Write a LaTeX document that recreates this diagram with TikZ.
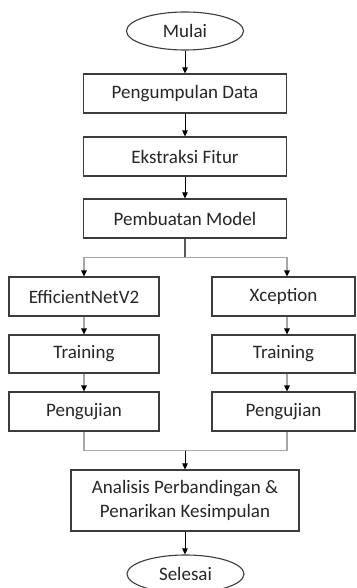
\documentclass[tikz,border=0pt]{standalone}
\usepackage{fontspec}
\setmainfont{Carlito}
\usetikzlibrary{shapes.geometric,arrows.meta}
\definecolor{bord}{HTML}{3C3C3C}
\definecolor{txt}{HTML}{262626}
\definecolor{lg}{HTML}{A6A6A6}
\definecolor{dg}{HTML}{595959}
\tikzset{
  box/.style={draw=bord, line width=1.1pt, rectangle, inner sep=0pt, text=txt,
    font=\fontsize{19}{23.5}\selectfont, align=center},
  term/.style={draw=bord, line width=1.1pt, ellipse, inner sep=0pt, text=txt,
    font=\fontsize{19}{23.5}\selectfont, minimum width=117pt, minimum height=38pt},
  tip/.style={-{Triangle[width=5.5pt,length=6pt,color=black]}},
  arr/.style={draw=black, line width=0.8pt, tip},
  garr/.style={draw=lg, line width=1.1pt, tip},
  gline/.style={draw=lg, line width=1.1pt},
}
\begin{document}
\begin{tikzpicture}[x=1pt,y=-1pt]
\clip (0,0) rectangle (356,588);
\fill[white] (0,0) rectangle (356,588);
\node[term] (mulai) at (185,31) {Mulai};
\node[box, minimum width=203pt, minimum height=39pt] (b1) at (185,93.5) {Pengumpulan Data};
\node[box, minimum width=203pt, minimum height=39pt] (b2) at (185,156.5) {Ekstraksi Fitur};
\node[box, minimum width=203pt, minimum height=39pt] (b3) at (185,218.5) {Pembuatan Model};
\node[box, minimum width=150pt, minimum height=39pt] (e1) at (84,296.5) {EfficientNetV2};
\node[box, minimum width=150pt, minimum height=38pt] (e2) at (84,354) {Training};
\node[box, minimum width=150pt, minimum height=39pt] (e3) at (84,411.5) {Pengujian};
\node[box, minimum width=143pt, minimum height=39pt] (x1) at (283.5,296.5) {Xception};
\node[box, minimum width=143pt, minimum height=38pt] (x2) at (283.5,354) {Training};
\node[box, minimum width=143pt, minimum height=39pt] (x3) at (283.5,411.5) {Pengujian};
\node[box, minimum width=228pt, minimum height=61pt] (an) at (185,500.5) {Analisis Perbandingan \&\\Penarikan Kesimpulan};
\node[term] (sel) at (185.5,574) {Selesai};
% main chain
\draw[arr] (mulai) -- (b1);
\draw[arr] (b1) -- (b2);
\draw[arr] (b2) -- (b3);
% branch
\draw[draw=dg, line width=1.1pt] (b3.south) -- ++(0,19) coordinate (bj);
\coordinate (xr) at ([xshift=3.5pt]x1.north);
\draw[garr] (bj) -| (e1.north);
\draw[garr] (bj) -| (xr);
\draw[garr] (e1) -- (e2);
\draw[garr] (e2) -- (e3);
\draw[garr] ([xshift=3.5pt]x1.south) -- ([xshift=3.5pt]x2.north);
\draw[garr] ([xshift=3.5pt]x2.south) -- ([xshift=3.5pt]x3.north);
% merge
\draw[gline] (e3.south) -- ++(0,19) coordinate (ml) -| ([xshift=3.5pt]x3.south);
\coordinate (mj) at (an.north |- ml);
\draw[arr] (mj) -- (an.north);
\draw[arr] (an.south) -- (an.south |- sel.north);
\end{tikzpicture}
\end{document}
